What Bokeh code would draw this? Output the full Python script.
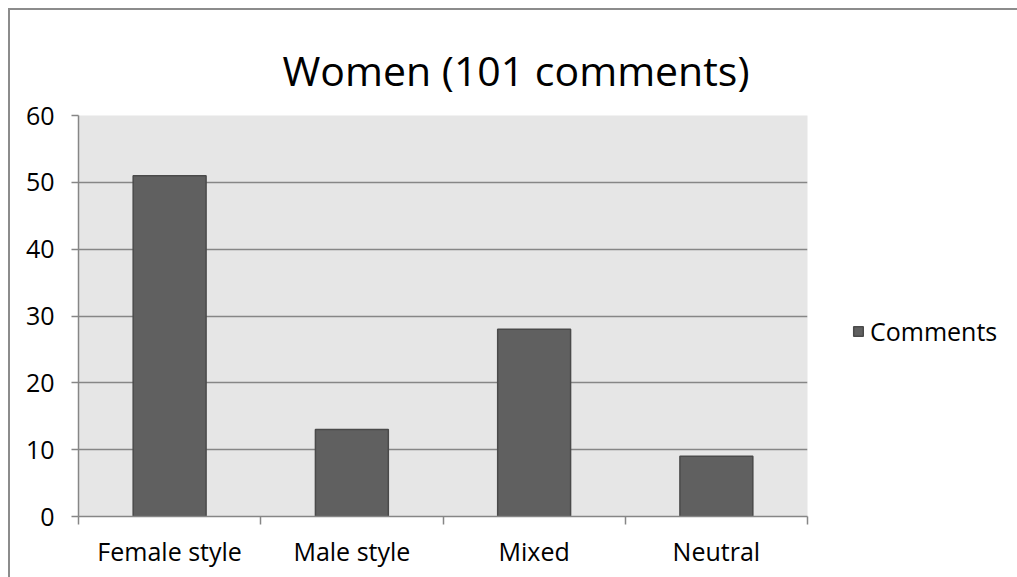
from bokeh.plotting import figure
from bokeh.models import ColumnDataSource, Range1d, FixedTicker, Legend, LegendItem
from bokeh.embed import file_html
from bokeh.resources import INLINE

categories = ["Female style", "Male style", "Mixed", "Neutral"]
comments = [51, 13, 28, 9]
y_ticks = [0, 10, 20, 30, 40, 50, 60]
title_text = "Women (101 comments)"
series_name = "Comments"

FONT = "Open Sans"
GRID = "#868686"

xs = [i + 0.5 for i in range(len(categories))]
src = ColumnDataSource(dict(x=xs, top=comments, cat=categories))

W, H = 1017, 577
fl, ft = 78, 115
fw, fh = 729, 401
p = figure(frame_width=fw, frame_height=fh, output_backend="svg", toolbar_location=None,
           x_range=Range1d(0, len(categories)), y_range=Range1d(0, 60),
           min_border_left=fl, min_border_top=ft,
           min_border_right=W - fl - fw, min_border_bottom=H - ft - fh,
           background_fill_color="#e6e6e6", border_fill_color="white",
           border_fill_alpha=0, outline_line_color=None, title=title_text)
p.styles = {
    "overflow": "hidden",
    "background-color": "white",
    "background-image": "linear-gradient(#8c8c8c, #8c8c8c), linear-gradient(#8c8c8c, #8c8c8c)",
    "background-size": "2px 2000px, 3000px 2px",
    "background-position": "8px 8px, 8px 8px",
    "background-repeat": "no-repeat, no-repeat",
}

p.title.align = "left"
p.title.offset = 204
p.title.standoff = 36
p.title.text_font = FONT
p.title.text_font_style = "normal"
p.title.text_font_size = "41px"
p.title.text_color = "black"

r = p.vbar(x="x", top="top", width=0.4, source=src, fill_color="#606060",
           line_color="#4a4a4a", line_width=1.5)

p.xgrid.visible = False
p.ygrid.ticker = FixedTicker(ticks=y_ticks)
p.ygrid.grid_line_color = GRID
p.ygrid.grid_line_width = 1.5

p.yaxis.ticker = FixedTicker(ticks=y_ticks)
p.xaxis.ticker = FixedTicker(ticks=xs, minor_ticks=list(range(len(categories) + 1)))
p.xaxis.major_label_overrides = {x: c for x, c in zip(xs, categories)}
for ax in (p.xaxis, p.yaxis):
    ax.axis_line_color = GRID
    ax.axis_line_width = 1.5
    ax.major_label_text_font = FONT
    ax.major_label_text_font_size = "25px"
    ax.major_label_text_color = "black"
    ax.minor_tick_line_color = None
p.yaxis.major_tick_line_color = GRID
p.yaxis.major_tick_line_width = 1.5
p.yaxis.major_tick_out = 7
p.yaxis.major_tick_in = 0
p.yaxis.major_label_standoff = 17
p.xaxis.major_tick_line_color = None
p.xaxis.major_tick_out = 0
p.xaxis.major_tick_in = 0
p.xaxis.minor_tick_line_color = GRID
p.xaxis.minor_tick_line_width = 1.5
p.xaxis.minor_tick_out = 8
p.xaxis.minor_tick_in = 0
p.xaxis.major_label_standoff = 9

legend = Legend(items=[LegendItem(label=series_name, renderers=[r])],
                location=(45, 168), border_line_color=None,
                background_fill_alpha=0, glyph_width=12, glyph_height=12,
                label_text_font=FONT, label_text_font_size="25px",
                label_text_color="black",
                label_standoff=6, padding=0, margin=0)
p.add_layout(legend, "right")

open("out.html", "w").write(file_html(p, INLINE))
